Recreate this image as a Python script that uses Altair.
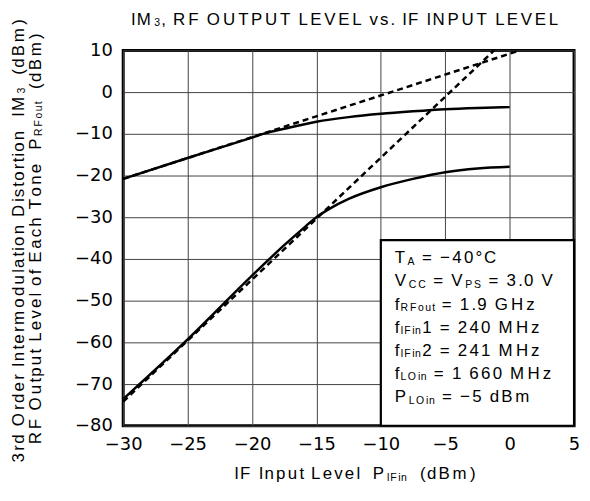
import altair as alt
import pandas as pd

# ---------------- data ----------------
x_fund = [-30, -25, -20, -19, -17.5, -15, -12.5, -10, -7.5, -5, -2.5, 0]
y_fund = [-20.8, -15.8, -10.9, -9.9, -8.8, -7.1, -6.0, -5.2, -4.6, -4.1, -3.8, -3.6]

x_im3 = [-30, -25, -20, -17.5, -16, -15, -14, -12.5, -10, -7.5, -5, -2.5, 0]
y_im3 = [-73.6, -59.3, -44.0, -36.7, -32.6, -30.0, -28.0, -25.6, -22.8, -20.8, -19.2, -18.3, -17.9]

x_fund_ext = [-30, 0.8]
y_fund_ext = [-20.8, 10]
x_im3_ext = [-30, -1.2]
y_im3_ext = [-74.2, 10]

x_ticks = [-30, -25, -20, -15, -10, -5, 0, 5]
y_ticks = [-80, -70, -60, -50, -40, -30, -20, -10, 0, 10]

box_x = [-10, 5]
box_y = [-35.5, -80]

title_parts = [("IM", 0), ("3", 1), (", RF OUTPUT LEVEL vs. IF INPUT LEVEL", 0)]
ytitle1_parts = [("3rd Order Intermodulation Distortion  IM", 0), ("3", 1), ("  (dBm)", 0)]
ytitle2_parts = [("RF Output Level of Each Tone  P", 0), ("RFout", 1), ("  (dBm)", 0)]
xtitle_parts = [("IF Input Level  P", 0), ("IFin", 1), ("  (dBm)", 0)]
box_lines = [
    [("T", 0), ("A", 1), (" = \u221240\u00b0C", 0)],
    [("V", 0), ("CC", 1), (" = V", 0), ("PS", 1), (" = 3.0 V", 0)],
    [("f", 0), ("RFout", 1), (" = 1.9 GHz", 0)],
    [("f", 0), ("IFin", 1), ("1 = 240 MHz", 0)],
    [("f", 0), ("IFin", 1), ("2 = 241 MHz", 0)],
    [("f", 0), ("LOin", 1), (" = 1 660 MHz", 0)],
    [("P", 0), ("LOin", 1), (" = \u22125 dBm", 0)],
]

# ---------------- text layout helpers (Arial metrics) ----------------
W = {' ': 278, '(': 333, ')': 333, ',': 278, '.': 278, '\u2212': 584, '=': 584, '\u00b0': 400,
     'A': 667, 'B': 667, 'C': 722, 'D': 722, 'E': 667, 'F': 611, 'G': 778, 'H': 722, 'I': 278,
     'L': 556, 'M': 833, 'N': 722, 'O': 778, 'P': 667, 'R': 722, 'S': 667, 'T': 611, 'U': 722,
     'V': 667, 'a': 556, 'c': 500, 'd': 556, 'e': 556, 'f': 278, 'h': 556, 'i': 222, 'l': 222,
     'm': 833, 'n': 556, 'o': 556, 'p': 556, 'r': 333, 's': 500, 't': 278, 'u': 556, 'v': 500,
     'z': 500}

SIZE = 17.0
TRACK = 1.24
SUB = 0.62


def layout(parts, size=SIZE, k=TRACK):
    out, cur = [], 0.0
    for txt, sub in parts:
        fs = size * SUB if sub else size
        sh = size * 0.08 if sub else 0.0
        for c in txt:
            if c != ' ':
                out.append((cur, sh, c, fs))
            cur += W.get(c, 556) / 1000.0 * fs * k
    return out, cur


rows = []


def horiz(parts, x0, y0, center=False):
    items, tot = layout(parts)
    if center:
        x0 = x0 - tot / 2
    for off, sh, c, fs in items:
        rows.append({"px": x0 + off, "py": y0 + sh, "ch": c, "fs": fs, "ang": 0})


def vert(parts, x0, yc):
    items, tot = layout(parts)
    y0 = yc + tot / 2
    for off, sh, c, fs in items:
        rows.append({"px": x0 + sh, "py": y0 - off, "ch": c, "fs": fs, "ang": 270})


OX, OY = 124, 49  # plot origin on the page
horiz(title_parts, 348 - OX, 23 - OY, center=True)
vert(ytitle1_parts, 24 - OX, 240 - OY)
vert(ytitle2_parts, 41 - OX, 238 - OY)
horiz(xtitle_parts, 358 - OX, 481 - OY, center=True)
for i, line in enumerate(box_lines):
    horiz(line, 397.5 - OX, 263.3 + i * 23.33 - OY)

text_df = pd.DataFrame(rows)

# ---------------- chart ----------------
fund = pd.DataFrame({"x": x_fund, "y": y_fund, "s": "fund"})
im3 = pd.DataFrame({"x": x_im3, "y": y_im3, "s": "im3"})
solid_df = pd.concat([fund, im3])
ext_df = pd.concat([
    pd.DataFrame({"x": x_fund_ext, "y": y_fund_ext, "s": "fund"}),
    pd.DataFrame({"x": x_im3_ext, "y": y_im3_ext, "s": "im3"}),
])
box_df = pd.DataFrame({"x": [box_x[0]], "x2": [box_x[1]], "y": [box_y[0]], "y2": [box_y[1]]})

xs = alt.Scale(domain=[-30, 5], nice=False, zero=False)
ys = alt.Scale(domain=[-80, 10], nice=False, zero=False)
xax = alt.Axis(values=x_ticks, title=None, grid=True, labelFlush=False, labelPadding=10,
               format="d")
yax = alt.Axis(values=y_ticks, title=None, grid=True, labelPadding=11, format="d")

solid = alt.Chart(solid_df).mark_line(color="black", strokeWidth=2.5, interpolate="monotone").encode(
    x=alt.X("x:Q", scale=xs, axis=xax),
    y=alt.Y("y:Q", scale=ys, axis=yax),
    detail="s:N",
)
dashed = alt.Chart(ext_df).mark_line(color="black", strokeWidth=2.5, strokeDash=[6, 4]).encode(
    x=alt.X("x:Q", scale=xs),
    y=alt.Y("y:Q", scale=ys),
    detail="s:N",
)
box = alt.Chart(box_df).mark_rect(fill="white", stroke="black", strokeWidth=2.2).encode(
    x=alt.X("x:Q", scale=xs), x2="x2:Q",
    y=alt.Y("y:Q", scale=ys), y2="y2:Q",
)
texts = alt.Chart(text_df).mark_text(align="left", baseline="alphabetic", font="Liberation Sans",
                                     color="black").encode(
    x=alt.X("px:Q", scale=None, axis=None),
    y=alt.Y("py:Q", scale=None, axis=None),
    text="ch:N",
    size=alt.Size("fs:Q", scale=None, legend=None),
    angle=alt.Angle("ang:Q", scale=None),
)

chart = alt.layer(dashed, solid, box, texts).properties(
    width=454, height=378,
    autosize=alt.AutoSizeParams(type="none"),
    padding={"left": 116, "top": 41, "right": 8, "bottom": 66},
).configure_view(
    stroke="black", strokeWidth=3
).configure_axis(
    ticks=False, tickSize=0, domain=False, gridColor="#444", gridWidth=1, gridOpacity=1,
    labelFont="DejaVu Sans", labelFontSize=18, labelColor="black"
)

chart.save("out.html", embed_options={"renderer": "svg", "actions": False})
